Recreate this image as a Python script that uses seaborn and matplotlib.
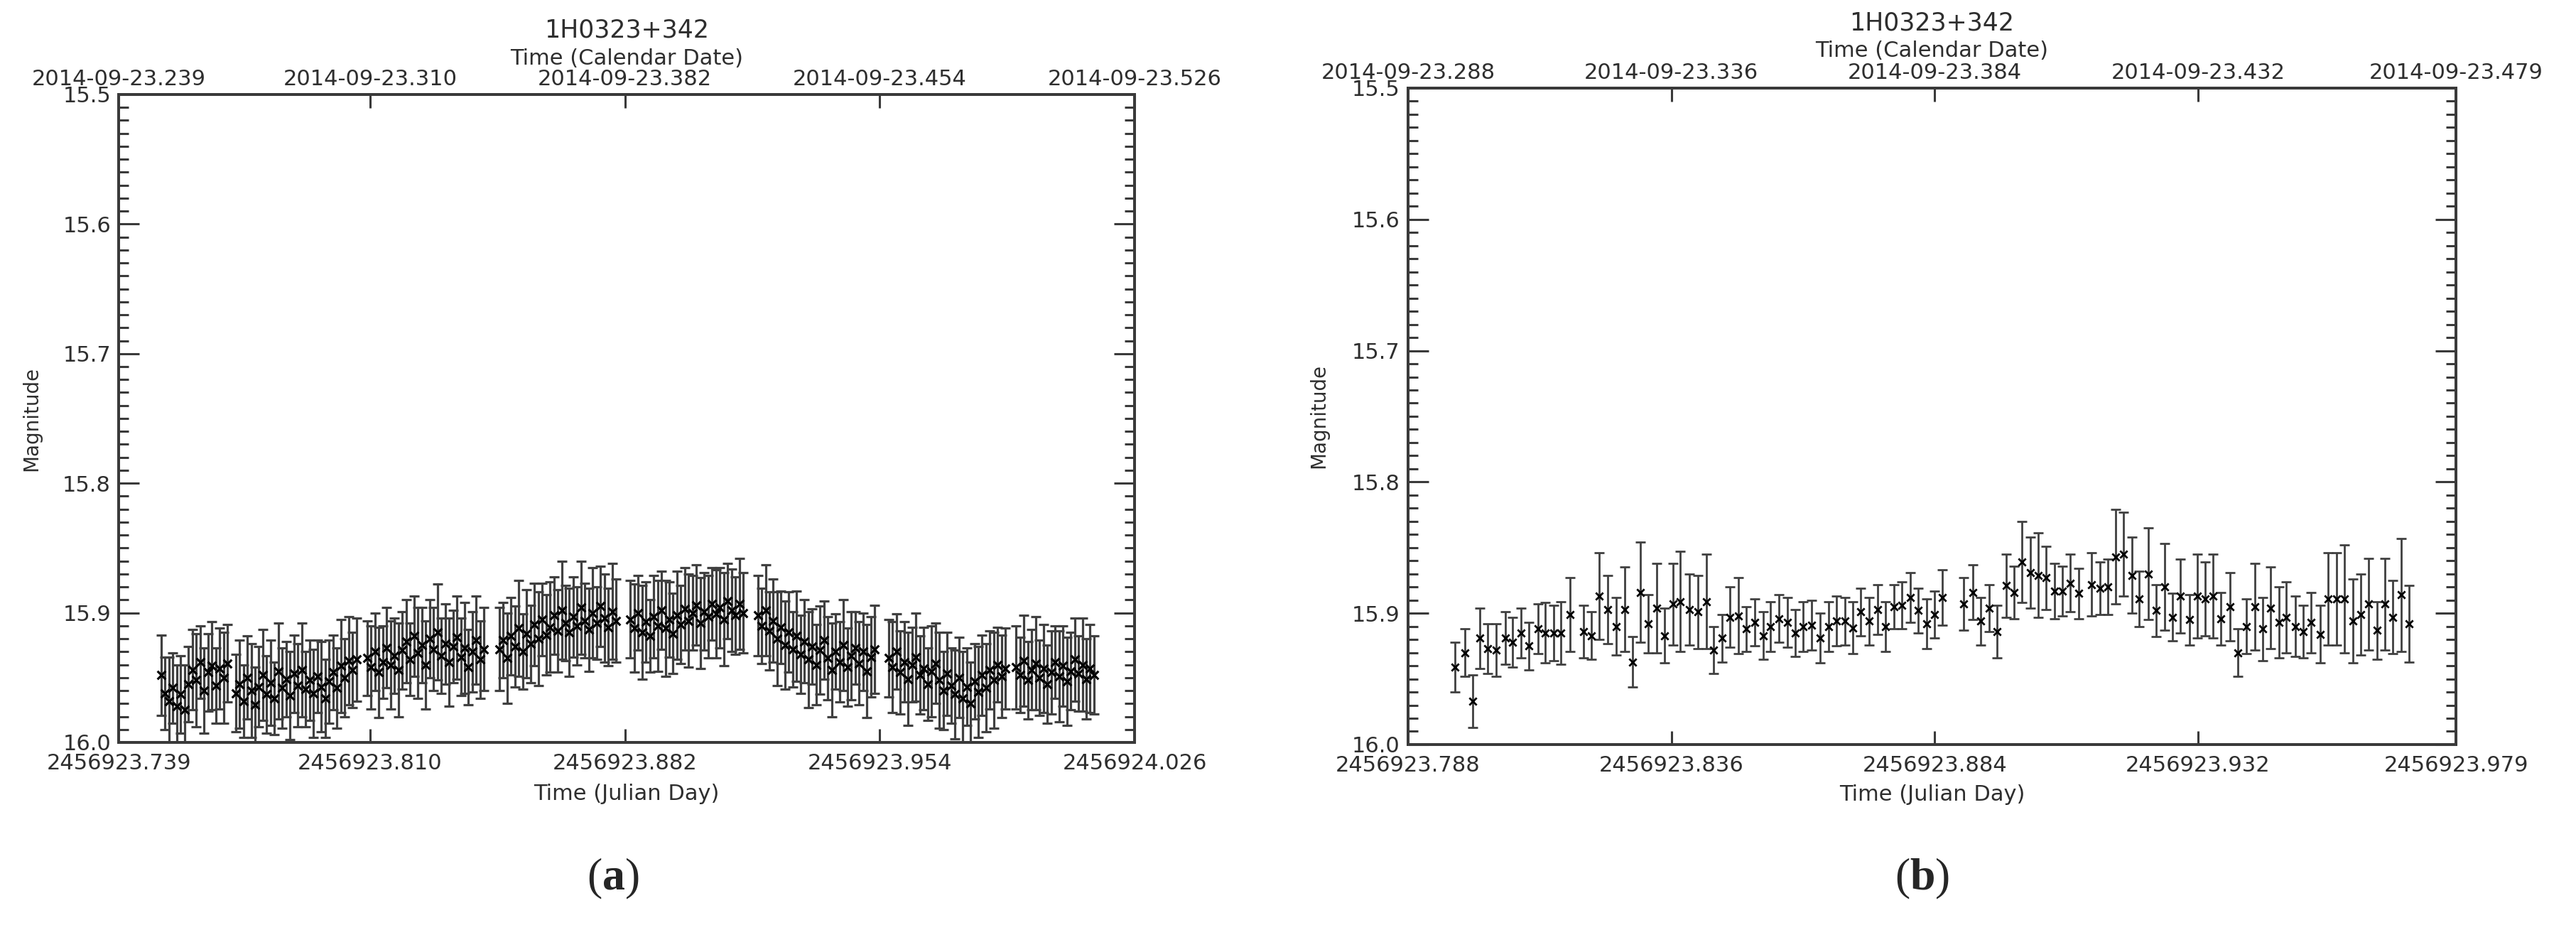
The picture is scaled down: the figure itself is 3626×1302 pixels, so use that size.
import matplotlib
matplotlib.use("Agg")
import matplotlib.pyplot as plt
from matplotlib.ticker import MultipleLocator, FormatStrFormatter
import pandas as pd
import seaborn as sns

# x values are Julian Day minus 2456923
# ---- panel (a): 1H0323+342, first night ----
jd_a = [
    # segment 1
    0.7510, 0.7521, 0.7532, 0.7543, 0.7554, 0.7565, 0.7576, 0.7587, 0.7598,
    0.7609, 0.7620, 0.7631, 0.7642, 0.7653, 0.7664, 0.7675, 0.7686, 0.7697,
    # segment 2
    0.7720, 0.7731, 0.7742, 0.7753, 0.7764, 0.7775, 0.7786, 0.7797, 0.7808, 0.7819,
    0.7830, 0.7841, 0.7852, 0.7863, 0.7874, 0.7885, 0.7896, 0.7907, 0.7918, 0.7929,
    0.7940, 0.7951, 0.7962, 0.7973, 0.7984, 0.7995, 0.8006, 0.8017, 0.8028, 0.8039,
    0.8050, 0.8061,
    # segment 3
    0.8092, 0.8103, 0.8114, 0.8125, 0.8136, 0.8147, 0.8158, 0.8169, 0.8180, 0.8191,
    0.8202, 0.8213, 0.8224, 0.8235, 0.8246, 0.8257, 0.8268, 0.8279, 0.8290, 0.8301,
    0.8312, 0.8323, 0.8334, 0.8345, 0.8356, 0.8367, 0.8378, 0.8389, 0.8400, 0.8411,
    0.8422,
    # segment 4
    0.8465, 0.8476, 0.8487, 0.8498, 0.8509, 0.8520, 0.8531, 0.8542, 0.8553, 0.8564,
    0.8575, 0.8586, 0.8597, 0.8608, 0.8619, 0.8630, 0.8641, 0.8652, 0.8663, 0.8674,
    0.8685, 0.8696, 0.8707, 0.8718, 0.8729, 0.8740, 0.8751, 0.8762, 0.8773, 0.8784,
    0.8795,
    # segment 5
    0.8835, 0.8846, 0.8857, 0.8868, 0.8879, 0.8890, 0.8901, 0.8912, 0.8923, 0.8934,
    0.8945, 0.8956, 0.8967, 0.8978, 0.8989, 0.9000, 0.9011, 0.9022, 0.9033, 0.9044,
    0.9055, 0.9066, 0.9077, 0.9088, 0.9099, 0.9110, 0.9121, 0.9132, 0.9143, 0.9154,
    # segment 6
    0.9195, 0.9206, 0.9217, 0.9228, 0.9239, 0.9250, 0.9261, 0.9272, 0.9283, 0.9294,
    0.9305, 0.9316, 0.9327, 0.9338, 0.9349, 0.9360, 0.9371, 0.9382, 0.9393, 0.9404,
    0.9415, 0.9426, 0.9437, 0.9448, 0.9459, 0.9470, 0.9481, 0.9492, 0.9503, 0.9514,
    0.9525,
    # segment 7
    0.9565, 0.9576, 0.9587, 0.9598, 0.9609, 0.9620, 0.9631, 0.9642, 0.9653, 0.9664,
    0.9675, 0.9686, 0.9697, 0.9708, 0.9719, 0.9730, 0.9741, 0.9752, 0.9763, 0.9774,
    0.9785, 0.9796, 0.9807, 0.9818, 0.9829, 0.9840, 0.9851, 0.9862, 0.9873, 0.9884,
    0.9895,
    # segment 8
    0.9925, 0.9936, 0.9947, 0.9958, 0.9969, 0.9980, 0.9991, 1.0002, 1.0013, 1.0024,
    1.0035, 1.0046, 1.0057, 1.0068, 1.0079, 1.0090, 1.0101, 1.0112, 1.0123, 1.0134,
    1.0145,
]
mag_a = [
    15.948, 15.962, 15.968, 15.958, 15.972, 15.963, 15.975, 15.955, 15.944,
    15.952, 15.938, 15.960, 15.946, 15.941, 15.956, 15.943, 15.950, 15.939,

    15.962, 15.955, 15.968, 15.950, 15.960, 15.971, 15.957, 15.948, 15.963, 15.954,
    15.966, 15.945, 15.958, 15.951, 15.964, 15.947, 15.956, 15.944, 15.959, 15.952,
    15.962, 15.949, 15.957, 15.966, 15.953, 15.946, 15.958, 15.941, 15.950, 15.937,
    15.944, 15.936,

    15.935, 15.942, 15.930, 15.946, 15.938, 15.927, 15.940, 15.933, 15.944, 15.929,
    15.922, 15.936, 15.918, 15.931, 15.925, 15.940, 15.920, 15.928, 15.915, 15.933,
    15.924, 15.938, 15.926, 15.919, 15.934, 15.927, 15.942, 15.930, 15.921, 15.936,
    15.928,

    15.928, 15.921, 15.935, 15.918, 15.926, 15.912, 15.930, 15.916, 15.924, 15.909,
    15.920, 15.905, 15.917, 15.911, 15.902, 15.914, 15.898, 15.908, 15.915, 15.903,
    15.910, 15.896, 15.906, 15.913, 15.900, 15.908, 15.895, 15.904, 15.911, 15.899,
    15.906,

    15.905, 15.912, 15.900, 15.915, 15.907, 15.918, 15.903, 15.910, 15.898, 15.912,
    15.905, 15.916, 15.902, 15.909, 15.897, 15.906, 15.900, 15.894, 15.908, 15.899,
    15.903, 15.893, 15.901, 15.896, 15.905, 15.891, 15.898, 15.902, 15.893, 15.900,

    15.902, 15.910, 15.898, 15.914, 15.906, 15.920, 15.911, 15.925, 15.915, 15.928,
    15.918, 15.932, 15.922, 15.936, 15.926, 15.940, 15.929, 15.921, 15.935, 15.944,
    15.930, 15.938, 15.925, 15.942, 15.933, 15.927, 15.939, 15.930, 15.945, 15.934,
    15.928,

    15.935, 15.942, 15.930, 15.946, 15.938, 15.951, 15.940, 15.934, 15.948, 15.943,
    15.955, 15.945, 15.939, 15.952, 15.960, 15.947, 15.956, 15.963, 15.950, 15.966,
    15.957, 15.970, 15.953, 15.961, 15.948, 15.958, 15.944, 15.952, 15.940, 15.949,
    15.943,

    15.942, 15.948, 15.937, 15.952, 15.944, 15.939, 15.950, 15.943, 15.955, 15.946,
    15.938, 15.949, 15.941, 15.953, 15.945, 15.936, 15.947, 15.940, 15.951, 15.943,
    15.948,
]
err_a = [
    0.031, 0.028, 0.034, 0.027, 0.032, 0.030, 0.035, 0.029, 0.031,
    0.036, 0.028, 0.033, 0.030, 0.034, 0.029, 0.031, 0.035, 0.030,

    0.030, 0.034, 0.028, 0.032, 0.036, 0.029, 0.031, 0.035, 0.030, 0.033,
    0.028, 0.037, 0.031, 0.029, 0.034, 0.030, 0.032, 0.036, 0.029, 0.031,
    0.034, 0.028, 0.035, 0.030, 0.032, 0.029, 0.031, 0.036, 0.030, 0.034,
    0.029, 0.032,

    0.029, 0.032, 0.030, 0.035, 0.028, 0.031, 0.034, 0.029, 0.036, 0.030,
    0.032, 0.028, 0.031, 0.035, 0.029, 0.034, 0.030, 0.032, 0.037, 0.029,
    0.031, 0.034, 0.028, 0.032, 0.030, 0.035, 0.029, 0.031, 0.034, 0.030,
    0.032,

    0.032, 0.029, 0.035, 0.030, 0.031, 0.037, 0.029, 0.034, 0.030, 0.032,
    0.036, 0.028, 0.031, 0.035, 0.030, 0.032, 0.038, 0.029, 0.034, 0.031,
    0.030, 0.036, 0.029, 0.032, 0.035, 0.028, 0.031, 0.034, 0.030, 0.037,
    0.032,

    0.030, 0.034, 0.029, 0.036, 0.031, 0.028, 0.032, 0.035, 0.030, 0.037,
    0.029, 0.031, 0.034, 0.030, 0.032, 0.036, 0.029, 0.031, 0.035, 0.030,
    0.032, 0.028, 0.034, 0.031, 0.036, 0.029, 0.032, 0.030, 0.035, 0.031,

    0.031, 0.029, 0.035, 0.030, 0.032, 0.036, 0.028, 0.034, 0.031, 0.029,
    0.035, 0.030, 0.032, 0.037, 0.029, 0.031, 0.034, 0.030, 0.032, 0.036,
    0.029, 0.031, 0.035, 0.030, 0.034, 0.028, 0.032, 0.030, 0.036, 0.031,
    0.034,

    0.030, 0.035, 0.029, 0.032, 0.031, 0.036, 0.029, 0.034, 0.030, 0.032,
    0.028, 0.035, 0.031, 0.037, 0.030, 0.032, 0.029, 0.034, 0.031, 0.036,
    0.030, 0.032, 0.029, 0.035, 0.031, 0.034, 0.030, 0.037, 0.029, 0.032,
    0.031,

    0.032, 0.029, 0.035, 0.030, 0.031, 0.036, 0.029, 0.034, 0.030, 0.032,
    0.028, 0.035, 0.031, 0.034, 0.030, 0.032, 0.029, 0.036, 0.031, 0.034,
    0.030,
]

# ---- panel (b): 1H0323+342, second run ----
jd_b = [
    0.7966, 0.7983, 0.7998, 0.8011, 0.8025, 0.8040, 0.8057, 0.8071, 0.8086, 0.8100,
    0.8117, 0.8130, 0.8145, 0.8159, 0.8175, 0.8200, 0.8214, 0.8229, 0.8244, 0.8259,
    0.8275, 0.8289, 0.8303, 0.8318, 0.8333, 0.8348, 0.8363, 0.8376, 0.8393, 0.8408,
    0.8424, 0.8437, 0.8452, 0.8467, 0.8482, 0.8497,
    0.8512, 0.8527, 0.8541, 0.8556, 0.8571, 0.8586, 0.8600, 0.8615, 0.8631, 0.8646,
    0.8661, 0.8676, 0.8691, 0.8705, 0.8721, 0.8736, 0.8750, 0.8766, 0.8780, 0.8795,
    0.8810, 0.8825, 0.8839, 0.8854,
    0.8892, 0.8910, 0.8924, 0.8939, 0.8954, 0.8970, 0.8985, 0.8999, 0.9014, 0.9029,
    0.9043, 0.9058, 0.9073, 0.9087, 0.9103, 0.9126, 0.9141, 0.9155,
    0.9170, 0.9184, 0.9199, 0.9213, 0.9229, 0.9244, 0.9259, 0.9273, 0.9288, 0.9304,
    0.9319, 0.9333, 0.9347, 0.9362, 0.9378, 0.9393, 0.9408, 0.9423, 0.9438, 0.9452,
    0.9467, 0.9481, 0.9497, 0.9511, 0.9526, 0.9542, 0.9557, 0.9572, 0.9587, 0.9602,
    0.9616, 0.9631, 0.9646, 0.9660, 0.9675, 0.9690, 0.9705,
]
mag_b = [
    15.941, 15.930, 15.967, 15.919, 15.927, 15.928, 15.919, 15.922, 15.915, 15.925,
    15.912, 15.915, 15.915, 15.915, 15.901, 15.914, 15.917, 15.887, 15.897, 15.910,
    15.897, 15.937, 15.884, 15.908, 15.896, 15.917, 15.893, 15.891, 15.897, 15.899,
    15.891, 15.928, 15.919, 15.903, 15.902, 15.912,
    15.907, 15.917, 15.910, 15.904, 15.907, 15.915, 15.910, 15.909, 15.919, 15.910,
    15.906, 15.906, 15.911, 15.899, 15.906, 15.897, 15.910, 15.895, 15.894, 15.888,
    15.898, 15.908, 15.901, 15.888,
    15.893, 15.884, 15.906, 15.896, 15.914, 15.879, 15.884, 15.861, 15.869, 15.871,
    15.873, 15.883, 15.883, 15.877, 15.885, 15.878, 15.881, 15.880,
    15.857, 15.855, 15.871, 15.889, 15.870, 15.898, 15.880, 15.903, 15.887, 15.905,
    15.887, 15.889, 15.887, 15.904, 15.895, 15.930, 15.910, 15.895, 15.912, 15.896,
    15.907, 15.903, 15.910, 15.914, 15.907, 15.916, 15.889, 15.889, 15.889, 15.906,
    15.901, 15.893, 15.913, 15.893, 15.903, 15.886, 15.908,
]
err_b = [
    0.019, 0.018, 0.020, 0.023, 0.019, 0.020, 0.020, 0.019, 0.019, 0.018,
    0.019, 0.023, 0.021, 0.024, 0.028, 0.020, 0.018, 0.033, 0.026, 0.022,
    0.032, 0.019, 0.038, 0.022, 0.034, 0.021, 0.031, 0.038, 0.027, 0.028,
    0.036, 0.018, 0.018, 0.023, 0.029, 0.017,
    0.018, 0.018, 0.019, 0.018, 0.019, 0.018, 0.019, 0.019, 0.019, 0.019,
    0.019, 0.018, 0.020, 0.018, 0.018, 0.019, 0.019, 0.017, 0.018, 0.019,
    0.017, 0.019, 0.018, 0.021,
    0.020, 0.021, 0.018, 0.018, 0.020, 0.024, 0.020, 0.031, 0.027, 0.032,
    0.024, 0.021, 0.019, 0.022, 0.019, 0.024, 0.020, 0.021,
    0.036, 0.032, 0.029, 0.021, 0.035, 0.020, 0.033, 0.018, 0.028, 0.019,
    0.032, 0.028, 0.032, 0.020, 0.026, 0.018, 0.021, 0.033, 0.024, 0.031,
    0.027, 0.027, 0.023, 0.020, 0.023, 0.022, 0.035, 0.035, 0.041, 0.032,
    0.031, 0.035, 0.022, 0.035, 0.028, 0.043, 0.029,
]

# axis ticks and labels
xlim_a = (0.739, 1.026)
ticks_a = [0.739, 0.810, 0.882, 0.954, 1.026]
jd_labels_a = ["2456923.739", "2456923.810", "2456923.882", "2456923.954", "2456924.026"]
cal_labels_a = ["2014-09-23.239", "2014-09-23.310", "2014-09-23.382",
                "2014-09-23.454", "2014-09-23.526"]

xlim_b = (0.788, 0.979)
ticks_b = [0.788, 0.836, 0.884, 0.932, 0.979]
jd_labels_b = ["2456923.788", "2456923.836", "2456923.884", "2456923.932", "2456923.979"]
cal_labels_b = ["2014-09-23.288", "2014-09-23.336", "2014-09-23.384",
                "2014-09-23.432", "2014-09-23.479"]

source_name = "1H0323+342"

sns.set_style("ticks")
plt.rcParams["font.family"] = ["DejaVu Sans"]
plt.rcParams["mathtext.fontset"] = "custom"
plt.rcParams["mathtext.rm"] = "Liberation Serif"
plt.rcParams["mathtext.bf"] = "Liberation Serif:bold"

INK = "#2e2e2e"
FRAME = "#3a3a3a"
TICK_FS = 22


def draw_panel(ax, df, xlim, ticks, jd_labels, cal_labels, lw, ms):
    ax.errorbar(df["jd"], df["mag"], yerr=df["err"], fmt="none",
                ecolor="#404040", elinewidth=lw, capsize=5, capthick=lw, zorder=2)
    sns.scatterplot(data=df, x="jd", y="mag", marker="x", color="black",
                    s=ms, linewidth=lw, ax=ax, zorder=3, legend=False)
    ax.set_xlim(*xlim)
    ax.set_ylim(16.0, 15.5)
    ax.set_xlabel("")
    ax.set_ylabel("")

    ax.set_xticks(ticks)
    ax.set_xticklabels(jd_labels)
    ax.yaxis.set_major_locator(MultipleLocator(0.1))
    ax.yaxis.set_minor_locator(MultipleLocator(0.01))
    ax.yaxis.set_major_formatter(FormatStrFormatter("%.1f"))
    ax.tick_params(axis="x", which="major", direction="in", length=14, width=2.2,
                   bottom=True, top=False, labelsize=TICK_FS, pad=11,
                   color=FRAME, labelcolor=INK)
    ax.tick_params(axis="y", which="major", direction="in", length=21, width=2.2,
                   left=True, right=True, labelsize=TICK_FS, pad=8,
                   color=FRAME, labelcolor=INK)
    ax.tick_params(axis="y", which="minor", direction="in", length=10, width=2.2,
                   left=True, right=True, color=FRAME)

    top = ax.twiny()
    top.set_xlim(*xlim)
    top.set_xticks(ticks)
    top.set_xticklabels(cal_labels)
    top.tick_params(axis="x", which="major", direction="in", length=14, width=2.2,
                    labelsize=TICK_FS, pad=5, color=FRAME, labelcolor=INK)
    top.xaxis.set_minor_locator(plt.NullLocator())

    for a in (ax, top):
        for sp in a.spines.values():
            sp.set_visible(True)
            sp.set_color(FRAME)
            sp.set_linewidth(2.8)


df_a = pd.DataFrame({"jd": jd_a, "mag": mag_a, "err": err_a})
df_b = pd.DataFrame({"jd": jd_b, "mag": mag_b, "err": err_b})

fig = plt.figure(figsize=(36.26, 13.02), dpi=100)
ax_a = fig.add_axes([0.0461, 0.1974, 0.3944, 0.7005])
ax_b = fig.add_axes([0.5466, 0.1951, 0.4068, 0.7097])

draw_panel(ax_a, df_a, xlim_a, ticks_a, jd_labels_a, cal_labels_a, lw=2.3, ms=70)
draw_panel(ax_b, df_b, xlim_b, ticks_b, jd_labels_b, cal_labels_b, lw=2.0, ms=55)

# titles and axis titles
for cx, y_title, y_cal, y_xl, x_yl, cy in [
    (0.2433, 0.967, 0.937, 0.142, 0.0122, 0.5476),
    (0.7500, 0.975, 0.945, 0.141, 0.5118, 0.5500),
]:
    fig.text(cx, y_title, source_name, ha="center", va="center", fontsize=25, color=INK)
    fig.text(cx, y_cal, "Time (Calendar Date)", ha="center", va="center", fontsize=22, color=INK)
    fig.text(cx, y_xl, "Time (Julian Day)", ha="center", va="center", fontsize=22, color=INK)
    fig.text(x_yl, cy, "Magnitude", ha="center", va="center", rotation=90, fontsize=20, color=INK)

fig.text(0.238, 0.050, r"$\mathrm{(}\mathbf{a}\mathrm{)}$", ha="center", va="center", fontsize=46)
fig.text(0.7463, 0.050, r"$\mathrm{(}\mathbf{b}\mathrm{)}$", ha="center", va="center", fontsize=46)

fig.savefig("out.png", dpi=100, facecolor="white")
